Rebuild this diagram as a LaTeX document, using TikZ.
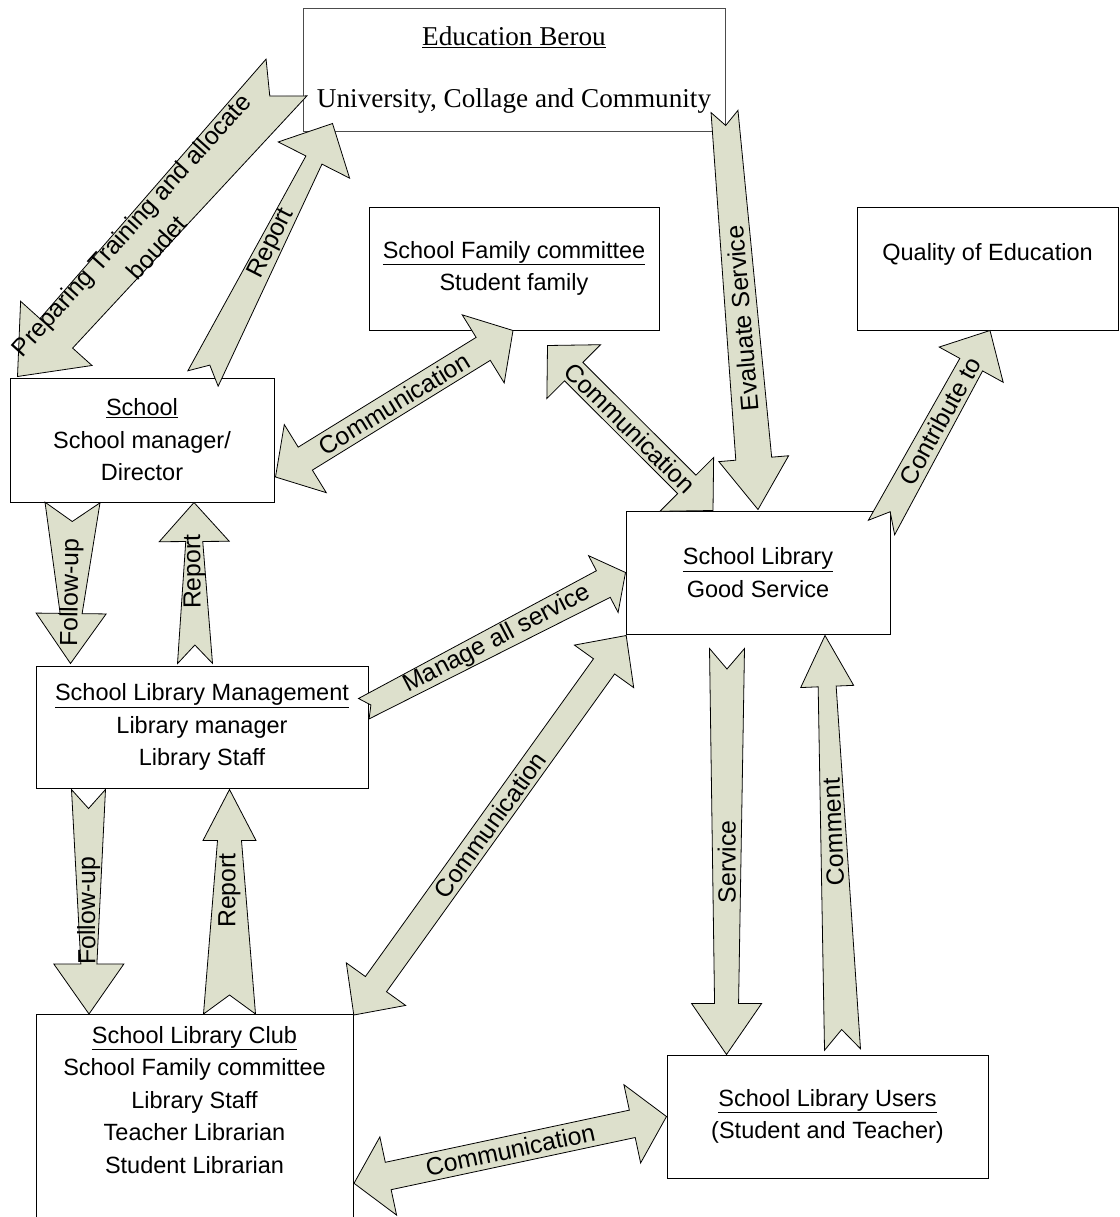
\documentclass[tikz,border=0pt]{standalone}
\usepackage{fontspec}
\setmainfont{Liberation Sans}
\newfontfamily\serifbox{Liberation Serif}
\usepackage{tikz}
\usetikzlibrary{calc}
\definecolor{arrowfill}{RGB}{221,224,204}

\newcommand{\boxfont}{\fontsize{23.5}{32.5}\selectfont}
\newcommand{\lblfont}{\fontsize{24.8}{34}\selectfont}

\tikzset{
  tailw/.store in=\tailw, neckw/.store in=\neckw,
  headw/.store in=\headw, headl/.store in=\headl,
  notch/.store in=\notchd,
  tailw=14pt, neckw=12pt, headw=36pt, headl=45pt, notch=18pt
}

% notched block arrow, tail #2 -> tip #3
\newcommand{\blockarrow}[5][]{%
  \begin{scope}[#1]
    \coordinate (nb) at ($(#3)!\headl!(#2)$);
    \filldraw[blk] ($(#2)!\tailw!90:(#3)$) -- ($(#2)!\notchd!(#3)$)
      -- ($(#2)!\tailw!-90:(#3)$) -- ($(nb)!\neckw!-90:(#3)$)
      -- ($(nb)!\headw!-90:(#3)$) -- (#3) -- ($(nb)!\headw!90:(#3)$)
      -- ($(nb)!\neckw!90:(#3)$) -- cycle;
    \path (#2) -- (#3) node[lbl, #4] {#5};
  \end{scope}}

% block arrow with a head at both ends
\newcommand{\dblarrow}[5][]{%
  \begin{scope}[#1]
    \coordinate (na) at ($(#2)!\headl!(#3)$);
    \coordinate (nb) at ($(#3)!\headl!(#2)$);
    \filldraw[blk] (#2) -- ($(na)!\headw!-90:(#3)$) -- ($(na)!\neckw!-90:(#3)$)
      -- ($(nb)!\neckw!-90:(#3)$) -- ($(nb)!\headw!-90:(#3)$) -- (#3)
      -- ($(nb)!\headw!90:(#3)$) -- ($(nb)!\neckw!90:(#3)$)
      -- ($(na)!\neckw!90:(#3)$) -- ($(na)!\headw!90:(#3)$) -- cycle;
    \path (#2) -- (#3) node[lbl, #4] {#5};
  \end{scope}}

\begin{document}
\begin{tikzpicture}[x=1pt, y=-1pt,
  box/.style={rectangle, draw, line width=1pt, fill=white, inner sep=2pt,
              align=center, font=\boxfont},
  blk/.style={fill=arrowfill, draw=black, line width=0.8pt, line join=miter},
  lbl/.style={sloped, allow upside down, pos=0.5, inner sep=0pt,
              align=center, font=\lblfont},
  readup/.style={rotate=180}
]
  \clip (0,0) rectangle (1119,1217);

  % Boxes
  \node[box, minimum width=422pt, minimum height=123pt, draw=black!70,
        font=\serifbox\fontsize{27.2}{31}\selectfont] (edu) at (514,70.5)
    {\underline{Education Berou}\\[31pt]University, Collage and Community};
  \node[box, minimum width=290pt, minimum height=123pt] (fam) at (514,268.5)
    {\underline{School Family committee}\\Student family};
  \node[box, minimum width=261pt, minimum height=123pt, text depth=34pt] (qual) at (987.5,268.5)
    {Quality of Education};
  \node[box, minimum width=264pt, minimum height=124pt] (school) at (142,440)
    {\underline{School}\\School manager/\\Director};
  \node[box, minimum width=264pt, minimum height=123pt] (lib) at (758,572.5)
    {\underline{School Library}\\Good Service};
  \node[box, minimum width=332pt, minimum height=122pt] (slm) at (202,727)
    {\underline{School Library Management}\\Library manager\\Library Staff};
  \node[box, anchor=north, minimum width=317pt, inner sep=6pt, text depth=250pt] (club) at (194.5,1014)
    {\begin{tabular}[t]{c}\underline{School Library Club}\\School Family committee\\
     Library Staff\\Teacher Librarian\\Student Librarian\end{tabular}};
  \node[box, minimum width=321pt, minimum height=123pt] (users) at (827.5,1116.5)
    {\underline{School Library Users}\\(Student and Teacher)};

  % Education Berou <-> School
  \coordinate (prepT) at ($(edu.west)+(-16,7)$);
  \coordinate (prepH) at ($(school.north west)+(8,-1)$);
  \blockarrow[tailw=27.5pt, neckw=22pt, headw=48pt, headl=58pt, notch=25pt]
    {prepT}{prepH}{pos=0.53, readup}{Preparing Training and allocate\\boudet}
  \coordinate (repT) at ($(school.north)+(61,1)$);
  \coordinate (repH) at ($(edu.south west)+(30,-9)$);
  \blockarrow[tailw=17pt, neckw=9pt, headw=40pt, headl=41pt, notch=15pt]
    {repT}{repH}{pos=0.53}{Report}

  % Communication with the family committee
  \coordinate (comA) at ($(school.east)+(1,37)$);
  \coordinate (comB) at ($(fam.south)+(-1,0)$);
  \dblarrow[neckw=13.5pt, headw=40pt, headl=35pt]{comA}{comB}{}{Communication}
  \coordinate (comC) at ($(fam.south)+(33.5,15)$);
  \coordinate (comD) at ($(lib.north)+(-45,0)$);
  \dblarrow[neckw=13pt, headw=38pt, headl=37pt]{comC}{comD}{}{Communication}

  % Evaluate / contribute
  \coordinate (evT) at ($(edu.south east)+(-1,-21)$);
  \coordinate (evH) at ($(lib.north)+(0,-1)$);
  \blockarrow[tailw=13.5pt, neckw=18pt, headw=35pt, headl=51pt, notch=14pt]
    {evT}{evH}{pos=0.52, readup}{Evaluate Service}
  \coordinate (ctT) at ($(lib.north east)+(-9,17)$);
  \coordinate (ctH) at ($(qual.south)+(2.5,0)$);
  \blockarrow[tailw=15pt, neckw=13pt, headw=36.5pt, headl=39pt, notch=18pt]
    {ctT}{ctH}{pos=0.54}{Contribute to}

  % School <-> School Library Management
  \coordinate (fuT) at ($(school.south west)+(63,0)$);
  \coordinate (fuH) at ($(slm.north west)+(35,-2)$);
  \blockarrow[tailw=27.5pt, neckw=11pt, headw=35pt, headl=50pt, notch=19pt]
    {fuT}{fuH}{pos=0.56, readup}{Follow-up}
  \coordinate (rpT) at ($(slm.north)+(-7,-2)$);
  \coordinate (rpH) at ($(school.south)+(52,0)$);
  \blockarrow[tailw=17.5pt, neckw=8.5pt, headw=35pt, headl=39pt, notch=18.5pt]
    {rpT}{rpH}{pos=0.57}{Report}

  % School Library Management <-> School Library Club
  \coordinate (fu2T) at ($(slm.south west)+(53,1)$);
  \coordinate (fu2H) at ($(club.north west)+(53.5,0)$);
  \blockarrow[tailw=17pt, neckw=8pt, headw=35pt, headl=50pt, notch=19pt]
    {fu2T}{fu2H}{pos=0.54, readup}{Follow-up}
  \coordinate (rp2T) at ($(club.north)+(35,0)$);
  \coordinate (rp2H) at ($(slm.south)+(27.5,1)$);
  \blockarrow[tailw=26pt, neckw=12pt, headw=26.5pt, headl=51pt, notch=19pt]
    {rp2T}{rp2H}{pos=0.55}{Report}

  % to the School Library
  \coordinate (mgT) at ($(slm.east)+(-4.7,-18.3)$);
  \coordinate (mgH) at (lib.west);
  \blockarrow[tailw=11.5pt, neckw=15pt, headw=32pt, headl=25pt, notch=8pt]
    {mgT}{mgH}{pos=0.51}{Manage all service}
  \coordinate (cmA) at ($(club.north east)+(0.3,1)$);
  \coordinate (cmB) at ($(lib.south west)+(0.7,1)$);
  \dblarrow[neckw=13pt, headw=36.5pt, headl=38pt]{cmA}{cmB}{}{Communication}

  % School Library <-> users
  \coordinate (svT) at ($(lib.south)+(-31,14)$);
  \coordinate (svH) at ($(users.north west)+(60,0)$);
  \blockarrow[tailw=17.5pt, neckw=12pt, headw=35pt, headl=51pt, notch=20.5pt]
    {svT}{svH}{pos=0.525, readup}{Service}
  \coordinate (cnT) at ($(users.north)+(15,-5)$);
  \coordinate (cnH) at ($(lib.south)+(67,1)$);
  \blockarrow[tailw=18pt, neckw=9pt, headw=26.5pt, headl=51pt, notch=20pt]
    {cnT}{cnH}{pos=0.526}{Comment}

  % Club <-> users
  \coordinate (cuA) at ($(club.north east)+(0.5,169.3)$);
  \coordinate (cuB) at (users.west);
  \dblarrow[neckw=14pt, headw=40pt, headl=35pt]{cuA}{cuB}{}{Communication}
\end{tikzpicture}
\end{document}
